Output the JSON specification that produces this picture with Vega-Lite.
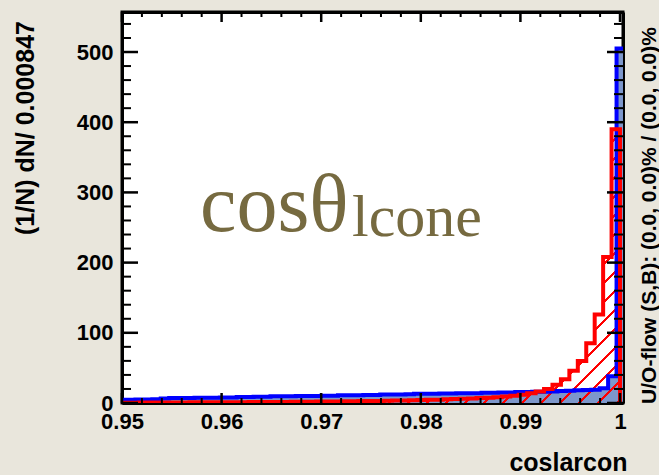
{
  "$schema": "https://vega.github.io/schema/vega-lite/v6.json",
  "width": 501,
  "height": 391,
  "autosize": {"type": "none"},
  "padding": {"left": 122, "top": 12, "right": 36, "bottom": 72},
  "background": "#e9e6dc",
  "config": {
    "view": {"fill": "white", "stroke": "black", "strokeWidth": 3},
    "axis": {
      "domain": true, "domainColor": "black", "domainWidth": 3, "ticks": false, "zindex": 1,
      "labelFont": "Liberation Sans", "labelFontWeight": "bold", "labelFontSize": 22, "labelColor": "black",
      "titleFont": "Liberation Sans", "titleFontWeight": "bold", "titleFontSize": 25, "titleColor": "black",
      "grid": false, "labelFlush": false, "labelOverlap": false
    }
  },
  "datasets": {
    "h": [
      {"s":"R","o":0,"x":0.95,"y":0},
      {"s":"R","o":1,"x":0.95,"y":0.5},
      {"s":"R","o":2,"x":0.950847,"y":0.5},
      {"s":"R","o":3,"x":0.951695,"y":0.6},
      {"s":"R","o":4,"x":0.952542,"y":0.6},
      {"s":"R","o":5,"x":0.95339,"y":0.7},
      {"s":"R","o":6,"x":0.954237,"y":0.7},
      {"s":"R","o":7,"x":0.955085,"y":0.8},
      {"s":"R","o":8,"x":0.955932,"y":0.8},
      {"s":"R","o":9,"x":0.95678,"y":0.9},
      {"s":"R","o":10,"x":0.957627,"y":0.9},
      {"s":"R","o":11,"x":0.958475,"y":1.0},
      {"s":"R","o":12,"x":0.959322,"y":1.0},
      {"s":"R","o":13,"x":0.960169,"y":1.1},
      {"s":"R","o":14,"x":0.961017,"y":1.1},
      {"s":"R","o":15,"x":0.961864,"y":1.2},
      {"s":"R","o":16,"x":0.962712,"y":1.3},
      {"s":"R","o":17,"x":0.963559,"y":1.3},
      {"s":"R","o":18,"x":0.964407,"y":1.4},
      {"s":"R","o":19,"x":0.965254,"y":1.5},
      {"s":"R","o":20,"x":0.966102,"y":1.6},
      {"s":"R","o":21,"x":0.966949,"y":1.7},
      {"s":"R","o":22,"x":0.967797,"y":1.8},
      {"s":"R","o":23,"x":0.968644,"y":1.9},
      {"s":"R","o":24,"x":0.969492,"y":2.0},
      {"s":"R","o":25,"x":0.970339,"y":2.1},
      {"s":"R","o":26,"x":0.971186,"y":2.2},
      {"s":"R","o":27,"x":0.972034,"y":2.4},
      {"s":"R","o":28,"x":0.972881,"y":2.5},
      {"s":"R","o":29,"x":0.973729,"y":2.7},
      {"s":"R","o":30,"x":0.974576,"y":2.8},
      {"s":"R","o":31,"x":0.975424,"y":3.0},
      {"s":"R","o":32,"x":0.976271,"y":3.2},
      {"s":"R","o":33,"x":0.977119,"y":3.4},
      {"s":"R","o":34,"x":0.977966,"y":3.6},
      {"s":"R","o":35,"x":0.978814,"y":3.9},
      {"s":"R","o":36,"x":0.979661,"y":4.2},
      {"s":"R","o":37,"x":0.980508,"y":4.5},
      {"s":"R","o":38,"x":0.981356,"y":4.8},
      {"s":"R","o":39,"x":0.982203,"y":5.2},
      {"s":"R","o":40,"x":0.983051,"y":5.6},
      {"s":"R","o":41,"x":0.983898,"y":6.0},
      {"s":"R","o":42,"x":0.984746,"y":6.5},
      {"s":"R","o":43,"x":0.985593,"y":7.0},
      {"s":"R","o":44,"x":0.986441,"y":7.6},
      {"s":"R","o":45,"x":0.987288,"y":8.3},
      {"s":"R","o":46,"x":0.988136,"y":9.2},
      {"s":"R","o":47,"x":0.988983,"y":10.3},
      {"s":"R","o":48,"x":0.989831,"y":11.8},
      {"s":"R","o":49,"x":0.990678,"y":13.8},
      {"s":"R","o":50,"x":0.991525,"y":16.5},
      {"s":"R","o":51,"x":0.992373,"y":20},
      {"s":"R","o":52,"x":0.99322,"y":26},
      {"s":"R","o":53,"x":0.994068,"y":34},
      {"s":"R","o":54,"x":0.994915,"y":46},
      {"s":"R","o":55,"x":0.995763,"y":60},
      {"s":"R","o":56,"x":0.99661,"y":85},
      {"s":"R","o":57,"x":0.997458,"y":126},
      {"s":"R","o":58,"x":0.998305,"y":208},
      {"s":"R","o":59,"x":0.999153,"y":390},
      {"s":"R","o":60,"x":1.0,"y":390},
      {"s":"R","o":61,"x":1.0,"y":0},
      {"s":"B","o":0,"x":0.95,"y":0},
      {"s":"B","o":1,"x":0.95,"y":4.5},
      {"s":"B","o":2,"x":0.9505,"y":4.5},
      {"s":"B","o":3,"x":0.951347,"y":5},
      {"s":"B","o":4,"x":0.952195,"y":5},
      {"s":"B","o":5,"x":0.953042,"y":5.5},
      {"s":"B","o":6,"x":0.95389,"y":6.5},
      {"s":"B","o":7,"x":0.954737,"y":7},
      {"s":"B","o":8,"x":0.955585,"y":7},
      {"s":"B","o":9,"x":0.956432,"y":7},
      {"s":"B","o":10,"x":0.95728,"y":7.5},
      {"s":"B","o":11,"x":0.958127,"y":7.5},
      {"s":"B","o":12,"x":0.958975,"y":7.5},
      {"s":"B","o":13,"x":0.959822,"y":8},
      {"s":"B","o":14,"x":0.960669,"y":8},
      {"s":"B","o":15,"x":0.961517,"y":8.5},
      {"s":"B","o":16,"x":0.962364,"y":8.5},
      {"s":"B","o":17,"x":0.963212,"y":9},
      {"s":"B","o":18,"x":0.964059,"y":9},
      {"s":"B","o":19,"x":0.964907,"y":9.5},
      {"s":"B","o":20,"x":0.965754,"y":9.5},
      {"s":"B","o":21,"x":0.966602,"y":9.5},
      {"s":"B","o":22,"x":0.967449,"y":10},
      {"s":"B","o":23,"x":0.968297,"y":10},
      {"s":"B","o":24,"x":0.969144,"y":10},
      {"s":"B","o":25,"x":0.969992,"y":10.5},
      {"s":"B","o":26,"x":0.970839,"y":10.5},
      {"s":"B","o":27,"x":0.971686,"y":11},
      {"s":"B","o":28,"x":0.972534,"y":11},
      {"s":"B","o":29,"x":0.973381,"y":11},
      {"s":"B","o":30,"x":0.974229,"y":11.5},
      {"s":"B","o":31,"x":0.975076,"y":11.5},
      {"s":"B","o":32,"x":0.975924,"y":12},
      {"s":"B","o":33,"x":0.976771,"y":12},
      {"s":"B","o":34,"x":0.977619,"y":12},
      {"s":"B","o":35,"x":0.978466,"y":12.5},
      {"s":"B","o":36,"x":0.979314,"y":13},
      {"s":"B","o":37,"x":0.980161,"y":13},
      {"s":"B","o":38,"x":0.981008,"y":13},
      {"s":"B","o":39,"x":0.981856,"y":13.5},
      {"s":"B","o":40,"x":0.982703,"y":13.5},
      {"s":"B","o":41,"x":0.983551,"y":14},
      {"s":"B","o":42,"x":0.984398,"y":14},
      {"s":"B","o":43,"x":0.985246,"y":14},
      {"s":"B","o":44,"x":0.986093,"y":14.5},
      {"s":"B","o":45,"x":0.986941,"y":14.5},
      {"s":"B","o":46,"x":0.987788,"y":15},
      {"s":"B","o":47,"x":0.988636,"y":15},
      {"s":"B","o":48,"x":0.989483,"y":15.5},
      {"s":"B","o":49,"x":0.990331,"y":15.5},
      {"s":"B","o":50,"x":0.991178,"y":16},
      {"s":"B","o":51,"x":0.992025,"y":16},
      {"s":"B","o":52,"x":0.992873,"y":16.5},
      {"s":"B","o":53,"x":0.99372,"y":17},
      {"s":"B","o":54,"x":0.994568,"y":17.5},
      {"s":"B","o":55,"x":0.995415,"y":18},
      {"s":"B","o":56,"x":0.996263,"y":18.5},
      {"s":"B","o":57,"x":0.99711,"y":19},
      {"s":"B","o":58,"x":0.997958,"y":21},
      {"s":"B","o":59,"x":0.998805,"y":38},
      {"s":"B","o":60,"x":0.999653,"y":505},
      {"s":"B","o":61,"x":1.0005,"y":505},
      {"s":"B","o":62,"x":1.0005,"y":0}
    ],
    "tk": [
      {"d":"x","k":"M","v":0.95},{"d":"x","k":"m","v":0.952},{"d":"x","k":"m","v":0.954},{"d":"x","k":"m","v":0.956},{"d":"x","k":"m","v":0.958},
      {"d":"x","k":"M","v":0.96},{"d":"x","k":"m","v":0.962},{"d":"x","k":"m","v":0.964},{"d":"x","k":"m","v":0.966},{"d":"x","k":"m","v":0.968},
      {"d":"x","k":"M","v":0.97},{"d":"x","k":"m","v":0.972},{"d":"x","k":"m","v":0.974},{"d":"x","k":"m","v":0.976},{"d":"x","k":"m","v":0.978},
      {"d":"x","k":"M","v":0.98},{"d":"x","k":"m","v":0.982},{"d":"x","k":"m","v":0.984},{"d":"x","k":"m","v":0.986},{"d":"x","k":"m","v":0.988},
      {"d":"x","k":"M","v":0.99},{"d":"x","k":"m","v":0.992},{"d":"x","k":"m","v":0.994},{"d":"x","k":"m","v":0.996},{"d":"x","k":"m","v":0.998},
      {"d":"x","k":"M","v":1.0},
      {"d":"y","k":"M","v":0},{"d":"y","k":"m","v":20},{"d":"y","k":"m","v":40},{"d":"y","k":"m","v":60},{"d":"y","k":"m","v":80},
      {"d":"y","k":"M","v":100},{"d":"y","k":"m","v":120},{"d":"y","k":"m","v":140},{"d":"y","k":"m","v":160},{"d":"y","k":"m","v":180},
      {"d":"y","k":"M","v":200},{"d":"y","k":"m","v":220},{"d":"y","k":"m","v":240},{"d":"y","k":"m","v":260},{"d":"y","k":"m","v":280},
      {"d":"y","k":"M","v":300},{"d":"y","k":"m","v":320},{"d":"y","k":"m","v":340},{"d":"y","k":"m","v":360},{"d":"y","k":"m","v":380},
      {"d":"y","k":"M","v":400},{"d":"y","k":"m","v":420},{"d":"y","k":"m","v":440},{"d":"y","k":"m","v":460},{"d":"y","k":"m","v":480},
      {"d":"y","k":"M","v":500},{"d":"y","k":"m","v":520},{"d":"y","k":"m","v":540}
    ]
  },
  "data": {"name": "h"},
  "layer": [
    {
      "transform": [{"filter": "datum.s == 'B' && datum.y > 0"}],
      "mark": {"type": "area", "interpolate": "step-after", "fill": "#7d97cb", "clip": true},
      "encoding": {
        "x": {"field": "x", "type": "quantitative", "scale": {"domain": [0.95, 1.0003], "nice": false, "zero": false},
          "axis": {"orient": "bottom", "values": [0.95, 0.96, 0.97, 0.98, 0.99, 1], "format": ".2~f", "labelPadding": 8, "labelBaseline": "top",
            "title": "coslarcon", "titleAlign": "right", "titleBaseline": "alphabetic", "titleX": 505, "titleY": 67}},
        "y": {"field": "y", "type": "quantitative", "stack": null, "scale": {"domain": [0, 557], "nice": false},
          "axis": {"orient": "left", "values": [0, 100, 200, 300, 400, 500], "labelPadding": 9,
            "title": "(1/N) dN/ 0.000847", "titleAngle": 270, "titleAlign": "center", "titleBaseline": "alphabetic", "titleX": -89, "titleY": 115.5}}
      }
    },
    {
      "transform": [{"filter": "datum.s == 'R' && datum.y > 0"}],
      "mark": {"type": "area", "interpolate": "step-after", "clip": true,
        "fill": {"gradient": "linear", "x1": 0, "y1": 0, "x2": 1.19, "y2": 0.6545, "stops": [
          {"offset":0.0100,"color":"rgba(255,0,0,0)"},{"offset":0.0100,"color":"#ff0000"},{"offset":0.0136,"color":"#ff0000"},{"offset":0.0136,"color":"rgba(255,0,0,0)"},
          {"offset":0.0346,"color":"rgba(255,0,0,0)"},{"offset":0.0346,"color":"#ff0000"},{"offset":0.0382,"color":"#ff0000"},{"offset":0.0382,"color":"rgba(255,0,0,0)"},
          {"offset":0.0592,"color":"rgba(255,0,0,0)"},{"offset":0.0592,"color":"#ff0000"},{"offset":0.0628,"color":"#ff0000"},{"offset":0.0628,"color":"rgba(255,0,0,0)"},
          {"offset":0.0838,"color":"rgba(255,0,0,0)"},{"offset":0.0838,"color":"#ff0000"},{"offset":0.0874,"color":"#ff0000"},{"offset":0.0874,"color":"rgba(255,0,0,0)"},
          {"offset":0.1084,"color":"rgba(255,0,0,0)"},{"offset":0.1084,"color":"#ff0000"},{"offset":0.1120,"color":"#ff0000"},{"offset":0.1120,"color":"rgba(255,0,0,0)"},
          {"offset":0.1330,"color":"rgba(255,0,0,0)"},{"offset":0.1330,"color":"#ff0000"},{"offset":0.1366,"color":"#ff0000"},{"offset":0.1366,"color":"rgba(255,0,0,0)"},
          {"offset":0.1576,"color":"rgba(255,0,0,0)"},{"offset":0.1576,"color":"#ff0000"},{"offset":0.1612,"color":"#ff0000"},{"offset":0.1612,"color":"rgba(255,0,0,0)"},
          {"offset":0.1822,"color":"rgba(255,0,0,0)"},{"offset":0.1822,"color":"#ff0000"},{"offset":0.1858,"color":"#ff0000"},{"offset":0.1858,"color":"rgba(255,0,0,0)"},
          {"offset":0.2068,"color":"rgba(255,0,0,0)"},{"offset":0.2068,"color":"#ff0000"},{"offset":0.2104,"color":"#ff0000"},{"offset":0.2104,"color":"rgba(255,0,0,0)"},
          {"offset":0.2314,"color":"rgba(255,0,0,0)"},{"offset":0.2314,"color":"#ff0000"},{"offset":0.2350,"color":"#ff0000"},{"offset":0.2350,"color":"rgba(255,0,0,0)"},
          {"offset":0.2560,"color":"rgba(255,0,0,0)"},{"offset":0.2560,"color":"#ff0000"},{"offset":0.2596,"color":"#ff0000"},{"offset":0.2596,"color":"rgba(255,0,0,0)"},
          {"offset":0.2806,"color":"rgba(255,0,0,0)"},{"offset":0.2806,"color":"#ff0000"},{"offset":0.2842,"color":"#ff0000"},{"offset":0.2842,"color":"rgba(255,0,0,0)"},
          {"offset":0.3052,"color":"rgba(255,0,0,0)"},{"offset":0.3052,"color":"#ff0000"},{"offset":0.3088,"color":"#ff0000"},{"offset":0.3088,"color":"rgba(255,0,0,0)"},
          {"offset":0.3298,"color":"rgba(255,0,0,0)"},{"offset":0.3298,"color":"#ff0000"},{"offset":0.3334,"color":"#ff0000"},{"offset":0.3334,"color":"rgba(255,0,0,0)"},
          {"offset":0.3544,"color":"rgba(255,0,0,0)"},{"offset":0.3544,"color":"#ff0000"},{"offset":0.3580,"color":"#ff0000"},{"offset":0.3580,"color":"rgba(255,0,0,0)"},
          {"offset":0.3790,"color":"rgba(255,0,0,0)"},{"offset":0.3790,"color":"#ff0000"},{"offset":0.3826,"color":"#ff0000"},{"offset":0.3826,"color":"rgba(255,0,0,0)"},
          {"offset":0.4036,"color":"rgba(255,0,0,0)"},{"offset":0.4036,"color":"#ff0000"},{"offset":0.4072,"color":"#ff0000"},{"offset":0.4072,"color":"rgba(255,0,0,0)"},
          {"offset":0.4282,"color":"rgba(255,0,0,0)"},{"offset":0.4282,"color":"#ff0000"},{"offset":0.4318,"color":"#ff0000"},{"offset":0.4318,"color":"rgba(255,0,0,0)"},
          {"offset":0.4528,"color":"rgba(255,0,0,0)"},{"offset":0.4528,"color":"#ff0000"},{"offset":0.4564,"color":"#ff0000"},{"offset":0.4564,"color":"rgba(255,0,0,0)"},
          {"offset":0.4774,"color":"rgba(255,0,0,0)"},{"offset":0.4774,"color":"#ff0000"},{"offset":0.4810,"color":"#ff0000"},{"offset":0.4810,"color":"rgba(255,0,0,0)"},
          {"offset":0.5020,"color":"rgba(255,0,0,0)"},{"offset":0.5020,"color":"#ff0000"},{"offset":0.5056,"color":"#ff0000"},{"offset":0.5056,"color":"rgba(255,0,0,0)"},
          {"offset":0.5266,"color":"rgba(255,0,0,0)"},{"offset":0.5266,"color":"#ff0000"},{"offset":0.5302,"color":"#ff0000"},{"offset":0.5302,"color":"rgba(255,0,0,0)"},
          {"offset":0.5512,"color":"rgba(255,0,0,0)"},{"offset":0.5512,"color":"#ff0000"},{"offset":0.5548,"color":"#ff0000"},{"offset":0.5548,"color":"rgba(255,0,0,0)"},
          {"offset":0.5758,"color":"rgba(255,0,0,0)"},{"offset":0.5758,"color":"#ff0000"},{"offset":0.5794,"color":"#ff0000"},{"offset":0.5794,"color":"rgba(255,0,0,0)"},
          {"offset":0.6004,"color":"rgba(255,0,0,0)"},{"offset":0.6004,"color":"#ff0000"},{"offset":0.6040,"color":"#ff0000"},{"offset":0.6040,"color":"rgba(255,0,0,0)"},
          {"offset":0.6250,"color":"rgba(255,0,0,0)"},{"offset":0.6250,"color":"#ff0000"},{"offset":0.6286,"color":"#ff0000"},{"offset":0.6286,"color":"rgba(255,0,0,0)"},
          {"offset":0.6496,"color":"rgba(255,0,0,0)"},{"offset":0.6496,"color":"#ff0000"},{"offset":0.6532,"color":"#ff0000"},{"offset":0.6532,"color":"rgba(255,0,0,0)"},
          {"offset":0.6742,"color":"rgba(255,0,0,0)"},{"offset":0.6742,"color":"#ff0000"},{"offset":0.6778,"color":"#ff0000"},{"offset":0.6778,"color":"rgba(255,0,0,0)"},
          {"offset":0.6988,"color":"rgba(255,0,0,0)"},{"offset":0.6988,"color":"#ff0000"},{"offset":0.7024,"color":"#ff0000"},{"offset":0.7024,"color":"rgba(255,0,0,0)"},
          {"offset":0.7234,"color":"rgba(255,0,0,0)"},{"offset":0.7234,"color":"#ff0000"},{"offset":0.7270,"color":"#ff0000"},{"offset":0.7270,"color":"rgba(255,0,0,0)"},
          {"offset":0.7480,"color":"rgba(255,0,0,0)"},{"offset":0.7480,"color":"#ff0000"},{"offset":0.7516,"color":"#ff0000"},{"offset":0.7516,"color":"rgba(255,0,0,0)"},
          {"offset":0.7726,"color":"rgba(255,0,0,0)"},{"offset":0.7726,"color":"#ff0000"},{"offset":0.7762,"color":"#ff0000"},{"offset":0.7762,"color":"rgba(255,0,0,0)"},
          {"offset":0.7972,"color":"rgba(255,0,0,0)"},{"offset":0.7972,"color":"#ff0000"},{"offset":0.8008,"color":"#ff0000"},{"offset":0.8008,"color":"rgba(255,0,0,0)"},
          {"offset":0.8218,"color":"rgba(255,0,0,0)"},{"offset":0.8218,"color":"#ff0000"},{"offset":0.8254,"color":"#ff0000"},{"offset":0.8254,"color":"rgba(255,0,0,0)"},
          {"offset":0.8464,"color":"rgba(255,0,0,0)"},{"offset":0.8464,"color":"#ff0000"},{"offset":0.8500,"color":"#ff0000"},{"offset":0.8500,"color":"rgba(255,0,0,0)"},
          {"offset":0.8710,"color":"rgba(255,0,0,0)"},{"offset":0.8710,"color":"#ff0000"},{"offset":0.8746,"color":"#ff0000"},{"offset":0.8746,"color":"rgba(255,0,0,0)"},
          {"offset":0.8956,"color":"rgba(255,0,0,0)"},{"offset":0.8956,"color":"#ff0000"},{"offset":0.8992,"color":"#ff0000"},{"offset":0.8992,"color":"rgba(255,0,0,0)"},
          {"offset":0.9202,"color":"rgba(255,0,0,0)"},{"offset":0.9202,"color":"#ff0000"},{"offset":0.9238,"color":"#ff0000"},{"offset":0.9238,"color":"rgba(255,0,0,0)"},
          {"offset":0.9448,"color":"rgba(255,0,0,0)"},{"offset":0.9448,"color":"#ff0000"},{"offset":0.9484,"color":"#ff0000"},{"offset":0.9484,"color":"rgba(255,0,0,0)"},
          {"offset":0.9694,"color":"rgba(255,0,0,0)"},{"offset":0.9694,"color":"#ff0000"},{"offset":0.9730,"color":"#ff0000"},{"offset":0.9730,"color":"rgba(255,0,0,0)"},
          {"offset":0.9940,"color":"rgba(255,0,0,0)"},{"offset":0.9940,"color":"#ff0000"},{"offset":0.9976,"color":"#ff0000"},{"offset":0.9976,"color":"rgba(255,0,0,0)"}
        ]}},
      "encoding": {
        "x": {"field": "x", "type": "quantitative", "scale": {"domain": [0.95, 1.0003], "nice": false, "zero": false},
          "axis": {"orient": "top", "labels": false, "title": null}},
        "y": {"field": "y", "type": "quantitative", "stack": null, "scale": {"domain": [0, 557], "nice": false},
          "axis": {"orient": "right", "labels": false,
            "title": "U/O-flow (S,B): (0.0, 0.0)% / (0.0, 0.0)%", "titleFontSize": 21, "titleAngle": 270, "titleAlign": "center", "titleBaseline": "alphabetic", "titleX": 32, "titleY": 203}}
      }
    },
    {
      "transform": [{"filter": "datum.s == 'B'"}],
      "mark": {"type": "line", "interpolate": "step-after", "stroke": "#0000ff", "strokeWidth": 4, "strokeJoin": "miter", "clip": true},
      "encoding": {
        "x": {"field": "x", "type": "quantitative", "scale": {"domain": [0.95, 1.0003], "nice": false, "zero": false}, "axis": null},
        "y": {"field": "y", "type": "quantitative", "stack": null, "scale": {"domain": [0, 557], "nice": false}, "axis": null},
        "order": {"field": "o", "type": "quantitative"}
      }
    },
    {
      "transform": [{"filter": "datum.s == 'R'"}],
      "mark": {"type": "line", "interpolate": "step-after", "stroke": "#ff0000", "strokeWidth": 4, "strokeJoin": "miter", "clip": true},
      "encoding": {
        "x": {"field": "x", "type": "quantitative", "scale": {"domain": [0.95, 1.0003], "nice": false, "zero": false}, "axis": null},
        "y": {"field": "y", "type": "quantitative", "stack": null, "scale": {"domain": [0, 557], "nice": false}, "axis": null},
        "order": {"field": "o", "type": "quantitative"}
      }
    },
    {
      "data": {"name": "tk"},
      "transform": [{"filter": "datum.d == 'x' && datum.k == 'M'"}],
      "mark": {"type": "tick", "orient": "vertical", "thickness": 2.5, "size": 10, "yOffset": -5, "color": "black", "opacity": 1},
      "encoding": {
        "x": {"field": "v", "type": "quantitative", "scale": {"domain": [0.95, 1.0003], "nice": false, "zero": false}, "axis": null},
        "y": {"datum": 0, "type": "quantitative", "scale": {"domain": [0, 557], "nice": false}, "axis": null}
      }
    },
    {
      "data": {"name": "tk"},
      "transform": [{"filter": "datum.d == 'x' && datum.k == 'm'"}],
      "mark": {"type": "tick", "orient": "vertical", "thickness": 2, "size": 5, "yOffset": -2.5, "color": "black", "opacity": 1},
      "encoding": {
        "x": {"field": "v", "type": "quantitative", "scale": {"domain": [0.95, 1.0003], "nice": false, "zero": false}, "axis": null},
        "y": {"datum": 0, "type": "quantitative", "scale": {"domain": [0, 557], "nice": false}, "axis": null}
      }
    },
    {
      "data": {"name": "tk"},
      "transform": [{"filter": "datum.d == 'x' && datum.k == 'M'"}],
      "mark": {"type": "tick", "orient": "vertical", "thickness": 2.5, "size": 10, "yOffset": 5, "color": "black", "opacity": 1},
      "encoding": {
        "x": {"field": "v", "type": "quantitative", "scale": {"domain": [0.95, 1.0003], "nice": false, "zero": false}, "axis": null},
        "y": {"datum": 557, "type": "quantitative", "scale": {"domain": [0, 557], "nice": false}, "axis": null}
      }
    },
    {
      "data": {"name": "tk"},
      "transform": [{"filter": "datum.d == 'x' && datum.k == 'm'"}],
      "mark": {"type": "tick", "orient": "vertical", "thickness": 2, "size": 5, "yOffset": 2.5, "color": "black", "opacity": 1},
      "encoding": {
        "x": {"field": "v", "type": "quantitative", "scale": {"domain": [0.95, 1.0003], "nice": false, "zero": false}, "axis": null},
        "y": {"datum": 557, "type": "quantitative", "scale": {"domain": [0, 557], "nice": false}, "axis": null}
      }
    },
    {
      "data": {"name": "tk"},
      "transform": [{"filter": "datum.d == 'y' && datum.k == 'M'"}],
      "mark": {"type": "tick", "orient": "horizontal", "thickness": 2.5, "size": 16, "xOffset": 8, "color": "black", "opacity": 1},
      "encoding": {
        "y": {"field": "v", "type": "quantitative", "scale": {"domain": [0, 557], "nice": false}, "axis": null},
        "x": {"datum": 0.95, "type": "quantitative", "scale": {"domain": [0.95, 1.0003], "nice": false, "zero": false}, "axis": null}
      }
    },
    {
      "data": {"name": "tk"},
      "transform": [{"filter": "datum.d == 'y' && datum.k == 'm'"}],
      "mark": {"type": "tick", "orient": "horizontal", "thickness": 2, "size": 9, "xOffset": 4.5, "color": "black", "opacity": 1},
      "encoding": {
        "y": {"field": "v", "type": "quantitative", "scale": {"domain": [0, 557], "nice": false}, "axis": null},
        "x": {"datum": 0.95, "type": "quantitative", "scale": {"domain": [0.95, 1.0003], "nice": false, "zero": false}, "axis": null}
      }
    },
    {
      "data": {"name": "tk"},
      "transform": [{"filter": "datum.d == 'y' && datum.k == 'M'"}],
      "mark": {"type": "tick", "orient": "horizontal", "thickness": 2.5, "size": 16, "xOffset": -8, "color": "black", "opacity": 1},
      "encoding": {
        "y": {"field": "v", "type": "quantitative", "scale": {"domain": [0, 557], "nice": false}, "axis": null},
        "x": {"datum": 1.0003, "type": "quantitative", "scale": {"domain": [0.95, 1.0003], "nice": false, "zero": false}, "axis": null}
      }
    },
    {
      "data": {"name": "tk"},
      "transform": [{"filter": "datum.d == 'y' && datum.k == 'm'"}],
      "mark": {"type": "tick", "orient": "horizontal", "thickness": 2, "size": 9, "xOffset": -4.5, "color": "black", "opacity": 1},
      "encoding": {
        "y": {"field": "v", "type": "quantitative", "scale": {"domain": [0, 557], "nice": false}, "axis": null},
        "x": {"datum": 1.0003, "type": "quantitative", "scale": {"domain": [0.95, 1.0003], "nice": false, "zero": false}, "axis": null}
      }
    },
    {
      "data": {"values": [{"label": "cosθ", "x": 0.95783, "y": 245}]},
      "mark": {"type": "text", "font": "Liberation Serif", "fontSize": 82, "color": "#766a40", "align": "left", "baseline": "alphabetic"},
      "encoding": {
        "x": {"field": "x", "type": "quantitative", "scale": {"domain": [0.95, 1.0003], "nice": false, "zero": false}, "axis": null},
        "y": {"field": "y", "type": "quantitative", "scale": {"domain": [0, 557], "nice": false}, "axis": null},
        "text": {"field": "label"}
      }
    },
    {
      "data": {"values": [{"label": "lcone", "x": 0.97309, "y": 238}]},
      "mark": {"type": "text", "font": "Liberation Serif", "fontSize": 60, "color": "#766a40", "align": "left", "baseline": "alphabetic"},
      "encoding": {
        "x": {"field": "x", "type": "quantitative", "scale": {"domain": [0.95, 1.0003], "nice": false, "zero": false}, "axis": null},
        "y": {"field": "y", "type": "quantitative", "scale": {"domain": [0, 557], "nice": false}, "axis": null},
        "text": {"field": "label"}
      }
    }
  ],
  "resolve": {"axis": {"x": "independent", "y": "independent"}}
}
